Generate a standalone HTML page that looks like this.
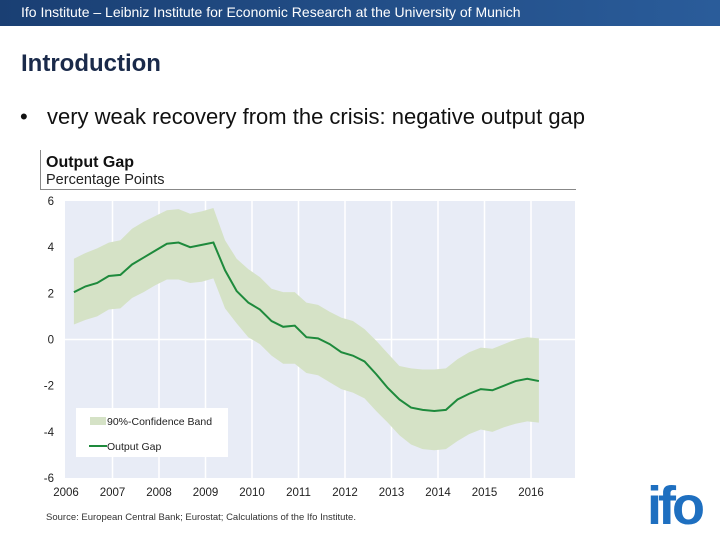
<!DOCTYPE html>
<html><head><meta charset="utf-8"><style>
body{margin:0;width:720px;height:540px;background:#fff;font-family:"Liberation Sans",sans-serif;position:relative;overflow:hidden}
.a{position:absolute;white-space:nowrap}
</style></head><body>
<div class="a" style="left:0;top:0;width:720px;height:26px;background:linear-gradient(90deg,#1a3f73,#2a5c9a);"></div>
<div class="a" style="left:21px;top:4px;color:#fff;font-size:14px">Ifo Institute – Leibniz Institute for Economic Research at the University of Munich</div>
<div class="a" style="left:21px;top:50px;font-size:24px;font-weight:bold;color:#1a2a4a">Introduction</div>
<div class="a" style="left:20px;top:104px;font-size:22px;color:#111">•</div>
<div class="a" style="left:47px;top:104px;font-size:22px;color:#111">very weak recovery from the crisis: negative output gap</div>
<svg class="a" style="left:0;top:0" width="720" height="540">
<line x1="40.5" y1="150" x2="40.5" y2="189" stroke="#888"/>
<line x1="40" y1="189.5" x2="576" y2="189.5" stroke="#888"/>
<text x="46" y="167" font-size="16" font-weight="bold" fill="#111">Output Gap</text>
<text x="46" y="184" font-size="14.5" fill="#222">Percentage Points</text>
<rect x="65" y="201" width="510" height="277" fill="#e8ecf6"/>
<g id="grid"></g><g id="band"></g><g id="line"></g><g id="yt"></g><g id="xt"></g>
<rect x="76" y="408" width="152" height="49" fill="#fff"/>
<rect x="90" y="417" width="16" height="8" fill="#d5e2c6"/>
<text x="107" y="425" font-size="10.5" fill="#222">90%-Confidence Band</text>
<line x1="89" y1="446" x2="107" y2="446" stroke="#1e8a3c" stroke-width="2"/>
<text x="107" y="450" font-size="10.5" fill="#222">Output Gap</text>
<text x="46" y="520" font-size="9.5" fill="#333">Source: European Central Bank; Eurostat; Calculations of the Ifo Institute.</text>
<text x="647" y="524" font-size="54" font-weight="bold" fill="#1e6fc0" letter-spacing="-4">ifo</text>
</svg>
<script>
const years=[2006,2007,2008,2009,2010,2011,2012,2013,2014,2015,2016];
const yTicks=[6,4,2,0,-2,-4,-6];
const startYear=2006.17, step=0.25;
const gap=[2.05,2.3,2.45,2.75,2.8,3.25,3.55,3.85,4.15,4.2,4.0,4.1,4.2,3.0,2.1,1.6,1.3,0.8,0.55,0.6,0.1,0.05,-0.2,-0.55,-0.7,-0.95,-1.5,-2.1,-2.6,-2.95,-3.05,-3.1,-3.05,-2.6,-2.35,-2.15,-2.2,-2.0,-1.8,-1.7,-1.8];
const upper=[3.5,3.75,3.95,4.2,4.3,4.8,5.1,5.35,5.6,5.65,5.45,5.55,5.7,4.3,3.5,3.05,2.7,2.2,2.05,2.05,1.6,1.5,1.2,0.95,0.8,0.45,-0.05,-0.6,-1.15,-1.25,-1.3,-1.3,-1.25,-0.85,-0.55,-0.35,-0.4,-0.2,0.0,0.1,0.05];
const lower=[0.65,0.85,1.0,1.3,1.35,1.8,2.05,2.35,2.6,2.6,2.45,2.5,2.65,1.35,0.7,0.1,-0.2,-0.7,-1.05,-1.05,-1.45,-1.55,-1.85,-2.15,-2.3,-2.55,-3.1,-3.6,-4.15,-4.55,-4.75,-4.8,-4.75,-4.4,-4.1,-3.9,-4.0,-3.8,-3.65,-3.55,-3.6];
const NS='http://www.w3.org/2000/svg';
const X=t=>66+(t-2006)*46.5, Y=v=>339.5-v*23.08;
function mk(tag,attrs,parent){const e=document.createElementNS(NS,tag);for(const k in attrs)e.setAttribute(k,attrs[k]);document.getElementById(parent).appendChild(e);return e;}
years.forEach(yr=>{
  if(yr>2006){const g=mk('line',{x1:X(yr),x2:X(yr),y1:201,y2:478,stroke:'#fff','stroke-width':1.5},'grid');
  
  }
  const t=mk('text',{x:X(yr),y:496,'font-size':11.5,'text-anchor':'middle',fill:'#222'},'xt');t.textContent=yr;
  
  
});
yTicks.forEach(v=>{
  if(v===0){const z=mk('line',{x1:65,x2:575,y1:Y(0),y2:Y(0),stroke:'#fff','stroke-width':1.5},'grid');
  
  }
  const t=mk('text',{x:54,y:Y(v)+4,'font-size':11.5,'text-anchor':'end',fill:'#222'},'yt');t.textContent=v;
  
  
});
const xs=gap.map((_,i)=>X(startYear+i*step));
let bp=upper.map((v,i)=>xs[i]+','+Y(v)).join(' ')+' '+lower.map((v,i)=>xs[i]+','+Y(v)).reverse().join(' ');
const band=mk('polygon',{points:bp,fill:'#d5e2c6'},'band');


const ln=mk('polyline',{points:gap.map((v,i)=>xs[i]+','+Y(v)).join(' '),fill:'none',stroke:'#1e8a3c','stroke-width':2},'line');


</script>
</body></html>
